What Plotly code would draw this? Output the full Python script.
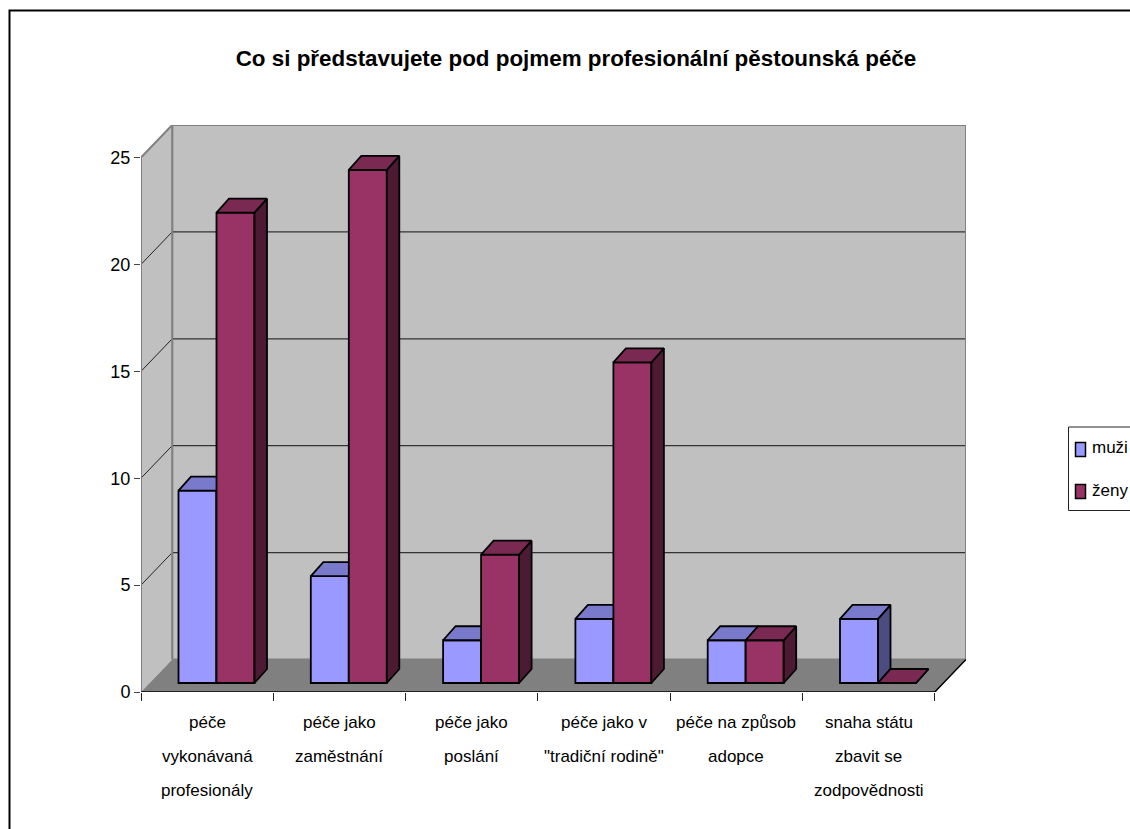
import plotly.graph_objects as go

# data
categories = [
    "péče<br>vykonávaná<br>profesionály",
    "péče jako<br>zaměstnání",
    "péče jako<br>poslání",
    'péče jako v<br>"tradiční rodině"',
    "péče na způsob<br>adopce",
    "snaha státu<br>zbavit se<br>zodpovědnosti",
]
muzi = [9, 5, 2, 3, 2, 3]
zeny = [22, 24, 6, 15, 2, 0]
y_ticks = [0, 5, 10, 15, 20, 25]

FONT = "Liberation Sans"
W, H = 1130, 829

# plot frame in page pixels, one category / one y unit in pixels
LEFT, TOP, RIGHT, BOTTOM = 141, 125, 966, 692
CAT_PX = 132.3
UNIT_PX = 21.38

# oblique depth of the box and of the bars, in axis units
DX = (RIGHT - LEFT) / CAT_PX - 6
DY = (BOTTOM - TOP) / UNIT_PX - 25
BAR_W = 38 / CAT_PX
BAR_X0 = 37.5 / CAT_PX
BAR_BASE = 9 / UNIT_PX
BAR_DX = 12.5 / CAT_PX
BAR_DY = 14 / UNIT_PX
OUTLINE = 1.8


def px(x):
    return (x - LEFT) / (RIGHT - LEFT)


def py(y):
    return (BOTTOM - y) / (BOTTOM - TOP)


def faces(values, shift):
    # top and side of every bar as polygons, None between them
    tx, ty, sx, sy = [], [], [], []
    for i, v in enumerate(values):
        x0 = i + BAR_X0 + shift * BAR_W
        x1 = x0 + BAR_W
        y0 = BAR_BASE
        y1 = BAR_BASE + v
        tx += [x0, x1, x1 + BAR_DX, x0 + BAR_DX, x0, None]
        ty += [y1, y1, y1 + BAR_DY, y1 + BAR_DY, y1, None]
        sx += [x1, x1 + BAR_DX, x1 + BAR_DX, x1, x1, None]
        sy += [y0, y0 + BAR_DY, y1 + BAR_DY, y1, y0, None]
    return tx, ty, sx, sy


def add_series(fig, name, values, shift, front, top, side, xa, ya):
    xs = [i + BAR_X0 + (shift + 0.5) * BAR_W for i in range(len(values))]
    fig.add_trace(go.Bar(
        x=xs, y=values, base=BAR_BASE, width=BAR_W, name=name,
        marker=dict(color=front, line=dict(color="black", width=OUTLINE)),
        xaxis=xa, yaxis=ya, showlegend=False,
    ))
    tx, ty, sx, sy = faces(values, shift)
    for fx, fy, col in [(sx, sy, side), (tx, ty, top)]:
        fig.add_trace(go.Scatter(
            x=fx, y=fy, mode="lines", fill="toself", fillcolor=col,
            line=dict(color="black", width=OUTLINE), xaxis=xa, yaxis=ya,
            hoverinfo="skip", showlegend=False,
        ))


fig = go.Figure()

# box edges that sit on the border of the plot area
fig.add_trace(go.Scatter(
    x=[0, 0, DX, 6 + DX, 6 + DX], y=[0, 25, 25 + DY, 25 + DY, DY],
    mode="lines", line=dict(color="#808080", width=2), cliponaxis=False,
    hoverinfo="skip", showlegend=False,
))
fig.add_trace(go.Scatter(
    x=[0, 6, 6 + DX], y=[0, 0, DY],
    mode="lines", line=dict(color="black", width=1.5), cliponaxis=False,
    hoverinfo="skip", showlegend=False,
))

# women go on an overlay axis so their fronts cover the men's side faces
add_series(fig, "muži", muzi, 0, "#9999FF", "#7A7ACC", "#4C4C80", "x", "y")
add_series(fig, "ženy", zeny, 1, "#993366", "#7A2952", "#4D1A33", "x2", "y2")

shapes = [
    # back wall, side wall, floor
    dict(type="path", path=f"M {DX} {DY} L {6 + DX} {DY} L {6 + DX} {25 + DY} L {DX} {25 + DY} Z",
         fillcolor="#C0C0C0", line=dict(color="#808080", width=2), layer="below"),
    dict(type="path", path=f"M 0 0 L {DX} {DY} L {DX} {25 + DY} L 0 25 Z",
         fillcolor="#C0C0C0", line=dict(width=0), layer="below"),
    dict(type="path", path=f"M 0 0 L 6 0 L {6 + DX} {DY} L {DX} {DY} Z",
         fillcolor="#808080", line=dict(width=0), layer="below"),
]
for t in y_ticks[1:-1]:
    shapes.append(dict(type="line", x0=DX, x1=6 + DX, y0=t + DY, y1=t + DY,
                       line=dict(color="#333333", width=1.2), layer="below"))
    shapes.append(dict(type="line", x0=0, x1=DX, y0=t, y1=t + DY,
                       line=dict(color="#222222", width=1), layer="below"))
shapes.append(dict(type="line", x0=DX, x1=DX, y0=DY, y1=25 + DY,
                   line=dict(color="#808080", width=2), layer="below"))

# outer chart border runs off the page on the right and bottom
shapes.append(dict(type="rect", xref="paper", yref="paper",
                   x0=px(9.5), x1=px(W + 10), y0=py(10.5), y1=py(H + 10),
                   line=dict(color="black", width=2), layer="below"))

# legend box is cut by the page edge as well
shapes.append(dict(type="rect", xref="paper", yref="paper",
                   x0=px(1068.5), x1=px(W + 10), y0=py(427), y1=py(510.5),
                   line=dict(color="#222222", width=1)))
annotations = []
for name, col, sy0, sy1, ty in [("muži", "#9999FF", 442.5, 456.5, 447),
                                ("ženy", "#993366", 484.5, 498.5, 490)]:
    shapes.append(dict(type="rect", xref="paper", yref="paper",
                       x0=px(1075.5), x1=px(1085.5), y0=py(sy0), y1=py(sy1),
                       fillcolor=col, line=dict(color="black", width=1.5)))
    annotations.append(dict(xref="paper", yref="paper", x=px(1090), y=py(ty),
                            xanchor="left", yanchor="middle", text=name, showarrow=False,
                            font=dict(family=FONT, size=17, color="black")))

# category labels, line by line because the spacing is wider than a tick label's
for i, cat in enumerate(categories):
    for j, line in enumerate(cat.split("<br>")):
        annotations.append(dict(x=i + 0.5, y=0, xref="x", yref="y", text=line,
                                yshift=-30 - 34 * j, yanchor="middle", showarrow=False,
                                font=dict(family=FONT, size=17, color="black")))

x_range = [0, 6 + DX]
y_range = [0, 25 + DY]
fig.update_layout(
    width=W, height=H,
    margin=dict(l=LEFT, r=W - RIGHT, t=TOP, b=H - BOTTOM),
    paper_bgcolor="white", plot_bgcolor="rgba(0,0,0,0)",
    showlegend=False, barmode="overlay", shapes=shapes, annotations=annotations,
    title=dict(text="<b>Co si představujete pod pojmem profesionální pěstounská péče</b>",
               x=576 / W, xanchor="center", y=1 - 58 / H, yanchor="middle",
               font=dict(family=FONT, size=22.4, color="black")),
    xaxis=dict(range=x_range, showgrid=False, zeroline=False, showline=False,
               tickmode="array", tickvals=list(range(7)), ticktext=[""] * 7,
               ticks="outside", ticklen=8, tickwidth=1, tickcolor="#222222"),
    yaxis=dict(range=y_range, showgrid=False, zeroline=False, showline=False,
               tickmode="array", tickvals=y_ticks, ticks="outside", ticklen=6,
               tickwidth=1, tickcolor="#444444",
               tickfont=dict(family=FONT, size=18, color="black")),
    xaxis2=dict(range=x_range, overlaying="x", visible=False),
    yaxis2=dict(range=y_range, overlaying="y", visible=False),
)

# the browser's default body margin would push everything 8 px in
fig.write_html("out.html", config={"displayModeBar": False},
               post_script="document.body.style.margin='0';")
